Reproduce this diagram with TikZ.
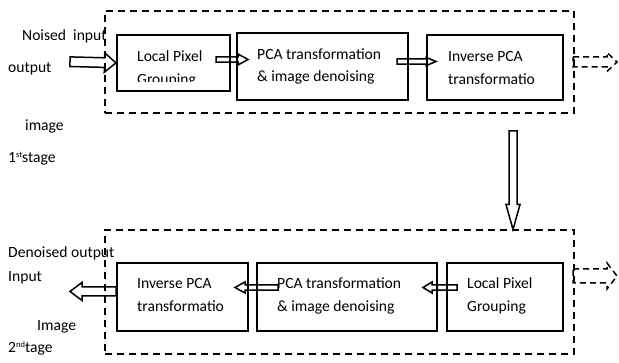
\documentclass[tikz,border=0pt]{standalone}
\usepackage{fontspec}
\setmainfont{Carlito}
\usetikzlibrary{calc}
\tikzset{
  box/.style={draw, line width=1.8pt, inner sep=0pt, anchor=north west},
  stagebox/.style={draw, line width=1.6pt, dash pattern=on 7pt off 5pt, inner sep=0pt, anchor=north west},
  txt/.style={inner sep=0pt, anchor=base west, font=\fontsize{15.6}{19}\selectfont},
  blk/.style={draw, line width=1.5pt, line join=miter},
  dblk/.style={blk, dash pattern=on 6pt off 4pt},
}
\newcommand\smallsup[1]{\raisebox{5.5pt}{\fontsize{8.5}{9}\selectfont #1}}
% #1 style, #2 start, #3 tip, #4 shaft half width, #5 head half width, #6 head length
\newcommand\blkarrow[6][]{%
  \coordinate (hb) at ($(#3)!#6!(#2)$);
  \draw[blk,#1] ($(#2)!#4!90:(#3)$) -- ($(hb)!#4!-90:(#2)$) -- ($(hb)!#5!-90:(#2)$)
    -- (#3) -- ($(hb)!#5!90:(#2)$) -- ($(hb)!#4!90:(#2)$) -- ($(#2)!#4!-90:(#3)$) -- cycle;
}
\begin{document}
\begin{tikzpicture}[x=1pt,y=-1pt]
\useasboundingbox (0,0) rectangle (619,363);

% stage frames
\node[stagebox, minimum width=469pt, minimum height=102pt] (s1) at (104,10) {};
\node[stagebox, minimum width=469pt, minimum height=124pt] (s2) at (104,229) {};

% first stage boxes
\node[box, minimum width=113pt, minimum height=56pt] (b1) at (116,34) {};
\node[box, minimum width=171pt, minimum height=67pt] (b2) at (236,32) {};
\node[box, minimum width=136pt, minimum height=65pt] (b3) at (426,34) {};

\node[txt] (t1a) at (137,61.5) {Local Pixel};
\begin{scope}
  \clip (116,34) rectangle (229,81.5);
  \node[txt] (t1b) at (137,84.5) {Grouping};
\end{scope}
\node[txt] (t2a) at (257,59.5) {PCA transformation};
\node[txt] (t2b) at (257,82) {\& image denoising};
\node[txt] (t3a) at (448,62) {Inverse PCA};
\node[txt] (t3b) at (448,84.5) {transformatio};

% second stage boxes
\node[box, minimum width=131pt, minimum height=68pt] (c1) at (116,262) {};
\node[box, minimum width=180pt, minimum height=68pt] (c2) at (256,262) {};
\node[box, minimum width=116pt, minimum height=68pt] (c3) at (446,262) {};

\node[txt] (u1a) at (137,289) {Inverse PCA};
\node[txt] (u1b) at (137,311.5) {transformatio};
\node[txt] (u2a) at (277,289) {PCA transformation};
\node[txt] (u2b) at (277,311.5) {\& image denoising};
\node[txt] (u3a) at (467,289) {Local Pixel};
\node[txt] (u3b) at (467,311.5) {Grouping};

% side labels
\node[txt] (l1) at (22,40.7) {Noised\ \ input};
\node[txt] (l2) at (8,73) {output};
\node[txt] (l3) at (25,131) {image};
\node[txt] (l4) at (8,163) {1\smallsup{st}stage};
\node[txt] (l5) at (8,258) {Denoised output};
\node[txt] (l6) at (8,282) {Input};
\node[txt] (l7) at (37,331) {Image};
\node[txt] (l8) at (8,353) {2\smallsup{nd}tage};

% arrow end points
\coordinate (inA) at (70,61.7);
\coordinate (a12A) at (216,59.5);
\coordinate (a12B) at (248,59.5);
\coordinate (a23A) at (397,61.5);
\coordinate (a23B) at (436,61.5);
\coordinate (o1A) at (573,62);
\coordinate (o1B) at (617,62);
\coordinate (dA) at (513,131);
\coordinate (dB) at (513,229.5);
\coordinate (c32A) at (457,287.5);
\coordinate (c32B) at (423,287.5);
\coordinate (c21A) at (278,287.5);
\coordinate (c21B) at (235,287.5);
\coordinate (outB) at (70,291.5);
\coordinate (c1W) at (116,291.5);
\coordinate (o2A) at (573,276);
\coordinate (o2B) at (617,276);

\blkarrow{inA}{b1.west}{4.8pt}{9.7pt}{11.5pt}
\blkarrow{a12A}{a12B}{2.7pt}{5.5pt}{10pt}
\blkarrow{a23A}{a23B}{2.6pt}{4.2pt}{10pt}
\blkarrow[dblk]{o1A}{o1B}{5pt}{9.5pt}{10pt}
\blkarrow{dA}{dB}{4pt}{7pt}{25pt}
\blkarrow{c32A}{c32B}{2.6pt}{5.5pt}{9pt}
\blkarrow{c21A}{c21B}{2.6pt}{5.5pt}{10pt}
\blkarrow{c1W}{outB}{4.5pt}{9pt}{12pt}
\blkarrow[dblk]{o2A}{o2B}{7pt}{13pt}{10pt}
\end{tikzpicture}
\end{document}
